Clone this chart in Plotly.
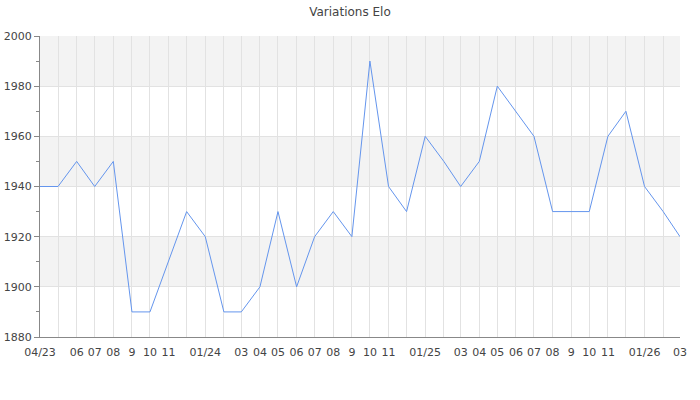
import plotly.graph_objects as go
import pandas as pd

months = pd.date_range("2023-04-01", "2026-03-01", freq="MS")
elo = [1940, 1940, 1950, 1940, 1950, 1890, 1890, 1910, 1930,
       1920, 1890, 1890, 1900, 1930, 1900, 1920, 1930, 1920, 1990, 1940, 1930,
       1960, 1950, 1940, 1950, 1980, 1970, 1960, 1930, 1930, 1930, 1960, 1970,
       1940, 1930, 1920]
tick_labels = ["04/23", "", "06", "07", "08", "9", "10", "11", "",
               "01/24", "", "03", "04", "05", "06", "07", "08", "9", "10", "11", "",
               "01/25", "", "03", "04", "05", "06", "07", "08", "9", "10", "11", "",
               "01/26", "", "03"]
band_edges = [1880, 1900, 1920, 1940, 1960, 1980, 2000]

fig = go.Figure()
fig.add_trace(go.Scatter(x=months, y=elo, mode="lines",
                         line=dict(color="#6495ED", width=1), hoverinfo="skip"))

shapes = []
for i in range(len(band_edges) - 1):
    if i % 2 == 1:
        shapes.append(dict(type="rect", xref="paper", yref="y", x0=0, x1=1,
                           y0=band_edges[i], y1=band_edges[i + 1],
                           fillcolor="#f3f3f3", line=dict(width=0), layer="below"))

fig.update_layout(
    width=700, height=400,
    margin=dict(l=40, r=20, t=36, b=63, autoexpand=False),
    paper_bgcolor="white", plot_bgcolor="white",
    font=dict(family="DejaVu Sans", size=11, color="#444"),
    title=dict(text="Variations Elo", x=0.5, xanchor="center", y=0.97, yanchor="middle",
               font=dict(size=12, color="#444")),
    showlegend=False,
    shapes=shapes,
    xaxis=dict(
        range=[months[0], months[-1]],
        tickmode="array", tickvals=months, ticktext=tick_labels,
        tickangle=0, automargin=False, ticklabelstandoff=5,
        showgrid=True, gridcolor="#e2e2e2", gridwidth=1,
        showline=True, linecolor="#888", linewidth=1,
        ticks="", zeroline=False, fixedrange=True,
    ),
    yaxis=dict(
        range=[1880, 2000], dtick=20, tick0=1880, automargin=False,
        showgrid=True, gridcolor="#e2e2e2", gridwidth=1,
        showline=True, linecolor="#888", linewidth=1,
        ticks="outside", ticklen=5, tickcolor="#888",
        minor=dict(dtick=10, ticks="outside", ticklen=3, tickcolor="#888", showgrid=False),
        zeroline=False, fixedrange=True,
    ),
)

fig.write_html("out.html", post_script="document.body.style.margin='0';",
               config={"displayModeBar": False})
